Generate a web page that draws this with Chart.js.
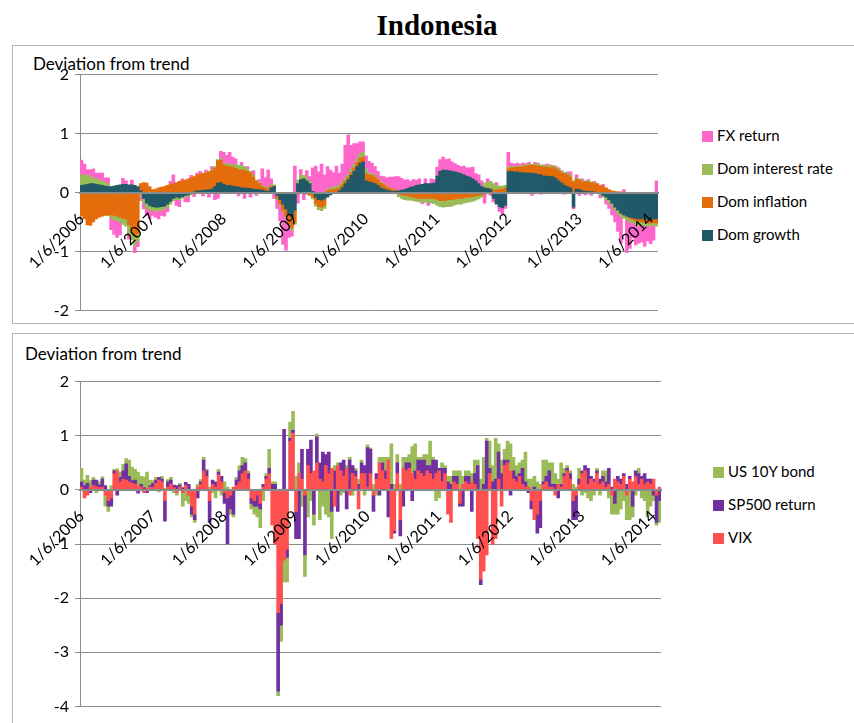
<!DOCTYPE html>
<html>
<head>
<meta charset="utf-8">
<script src="https://cdn.jsdelivr.net/npm/chart.js@4.4.1/dist/chart.umd.min.js"></script>
<style>
  body { margin: 0; background: #fff; width: 854px; height: 723px; overflow: hidden; position: relative; font-family: Lato, "Open Sans", sans-serif; color: #000; }
  .title { position: absolute; left: 0; width: 874px; top: 9px; text-align: center; font: bold 29px "Liberation Serif", "Times New Roman", serif; }
  .panel { position: absolute; border: 1px solid #b3b3b3; }
  .axis-title { position: absolute; font-size: 17px; white-space: nowrap; }
  .legend-item { position: absolute; font-size: 15px; white-space: nowrap; line-height: 18px; }
  .legend-item span { display: inline-block; width: 11px; height: 11px; margin-right: 4px; vertical-align: -1px; }
  canvas { position: absolute; }
</style>
</head>
<body>
<div class="title">Indonesia</div>

<div class="panel" style="left:12px; top:45px; width:860px; height:277px;"></div>
<div class="panel" style="left:12px; top:333px; width:860px; height:400px;"></div>

<div class="axis-title" style="left:33px; top:53px;">Deviation from trend</div>
<div class="axis-title" style="left:25px; top:343px;">Deviation from trend</div>

<canvas id="domestic" width="660" height="267" style="left:0; top:59px;"></canvas>
<canvas id="global" width="663" height="356" style="left:0; top:366px;"></canvas>

<div id="legendTop"></div>
<div id="legendBottom"></div>

<script>
// Axis labels shown on the time axis
const tickLabels = ['1/6/2006', '1/6/2007', '1/6/2008', '1/6/2009', '1/6/2010',
                    '1/6/2011', '1/6/2012', '1/6/2013', '1/6/2014'];

// Domestic factors: deviation from trend, twice a month from Jan 2006
const domGrowth = [
  0.12, 0.13, 0.14, 0.15, 0.15, 0.14, 0.13, 0.12, 0.11, 0.10,
  0.10, 0.11, 0.12, 0.13, 0.14, 0.14, 0.13, 0.13, 0.12, 0.10,
  0.03, -0.10, -0.18, -0.22, -0.24, -0.25, -0.25, -0.24, -0.23, -0.20,
  -0.15, -0.10, -0.08, -0.09, -0.07, -0.05, -0.04, -0.02, 0.01, 0.03,
  0.03, 0.04, 0.04, 0.05, 0.06, 0.10, 0.16, 0.17, 0.14, 0.12,
  0.12, 0.11, 0.10, 0.09, 0.08, 0.08, 0.07, 0.07, 0.06, 0.05,
  0.05, 0.04, 0.03, 0.02, 0.08, 0.10, -0.05, -0.12, -0.20, -0.28,
  -0.38, -0.42, -0.30, 0.15, 0.22, 0.23, 0.20, 0.15, 0.02, -0.08,
  -0.12, -0.13, -0.11, -0.08, -0.04, -0.02, -0.01, 0.03, 0.08, 0.15,
  0.22, 0.29, 0.36, 0.44, 0.50, 0.52, 0.20, 0.18, 0.17, 0.15,
  0.12, 0.08, 0.06, 0.04, 0.03, 0.02, 0.02, 0.03, 0.04, 0.05,
  0.07, 0.09, 0.10, 0.12, 0.13, 0.14, 0.15, 0.15, 0.15, 0.16,
  0.28, 0.36, 0.38, 0.38, 0.37, 0.36, 0.35, 0.34, 0.32, 0.30,
  0.28, 0.26, 0.23, 0.20, 0.15, 0.10, 0.08, 0.07, 0.05, -0.10,
  -0.20, -0.24, -0.26, -0.22, 0.35, 0.36, 0.35, 0.35, 0.34, 0.34,
  0.33, 0.33, 0.33, 0.32, 0.31, 0.30, 0.28, 0.28, 0.27, 0.27,
  0.24, 0.20, 0.16, 0.12, 0.10, 0.08, -0.25, 0.06, 0.05, 0.03,
  0.02, 0.02, 0.01, 0.01, 0.00, -0.02, -0.05, -0.08, -0.12, -0.18,
  -0.25, -0.30, -0.35, -0.38, -0.40, -0.42, -0.43, -0.44, -0.45, -0.45,
  -0.45, -0.46, -0.46, -0.45, -0.45
];
const domInflation = [
  -0.40, -0.45, -0.55, -0.56, -0.50, -0.45, -0.42, -0.40, -0.39, -0.39,
  -0.38, -0.39, -0.40, -0.42, -0.44, -0.45, -0.55, -0.65, -0.75, -0.70,
  0.12, 0.17, 0.16, 0.10, 0.05, 0.06, 0.08, 0.09, 0.10, 0.12,
  0.14, 0.15, 0.17, 0.19, 0.20, 0.21, 0.23, 0.25, 0.26, 0.27,
  0.28, 0.28, 0.29, 0.30, 0.31, 0.32, 0.38, 0.38, 0.33, 0.33,
  0.32, 0.32, 0.31, 0.30, 0.30, 0.30, 0.29, 0.26, 0.20, 0.14,
  0.10, 0.06, 0.05, 0.04, 0.02, 0.01, -0.05, -0.08, -0.10, -0.12,
  -0.15, -0.18, -0.20, -0.03, -0.02, -0.02, -0.03, -0.05, -0.08, -0.10,
  -0.12, -0.12, -0.11, 0.03, 0.05, 0.05, 0.06, 0.05, 0.05, 0.05,
  0.04, 0.05, 0.06, 0.07, 0.08, 0.08, 0.12, 0.12, 0.12, 0.11,
  0.10, 0.08, 0.07, 0.05, 0.04, 0.03, 0.02, -0.02, -0.04, -0.05,
  -0.06, -0.07, -0.08, -0.09, -0.10, -0.10, -0.10, -0.10, -0.10, -0.10,
  -0.12, -0.14, -0.14, -0.13, -0.12, -0.12, -0.11, -0.10, -0.10, -0.09,
  -0.08, -0.08, -0.07, -0.06, -0.05, -0.04, -0.03, -0.02, 0.02, 0.03,
  0.04, 0.05, 0.06, 0.08, 0.05, 0.06, 0.07, 0.08, 0.09, 0.10,
  0.12, 0.13, 0.13, 0.14, 0.14, 0.14, 0.15, 0.15, 0.15, 0.16,
  0.16, 0.17, 0.18, 0.20, 0.20, 0.18, 0.18, 0.17, 0.16, 0.15,
  0.16, 0.16, 0.16, 0.15, 0.14, 0.12, 0.10, 0.08, 0.05, 0.03,
  0.02, 0.01, 0.01, 0.00, -0.01, -0.02, -0.03, -0.04, -0.05, -0.05,
  -0.05, -0.06, -0.06, -0.06, -0.07
];
const domInterest = [
  0.18, 0.17, 0.15, 0.12, 0.10, 0.09, 0.08, 0.07, 0.06, 0.05,
  -0.05, -0.07, -0.08, -0.08, -0.10, -0.12, -0.14, -0.15, -0.15, -0.12,
  -0.06, -0.08, -0.09, -0.08, -0.07, -0.07, -0.06, -0.06, -0.05, -0.05,
  -0.05, -0.04, -0.04, -0.03, -0.03, -0.03, -0.02, -0.02, -0.02, -0.01,
  0.00, 0.01, 0.01, 0.01, 0.02, 0.02, 0.02, 0.03, 0.03, 0.03,
  0.04, 0.05, 0.06, 0.07, 0.08, 0.06, 0.04, 0.03, 0.03, 0.02,
  0.02, 0.02, 0.02, 0.02, 0.03, 0.02, -0.02, -0.03, -0.03, -0.03,
  -0.03, -0.04, -0.04, 0.06, 0.07, 0.06, 0.05, 0.04, -0.03, -0.05,
  -0.05, -0.06, -0.05, 0.03, 0.03, 0.04, 0.04, 0.05, 0.05, 0.05,
  0.05, 0.06, 0.06, 0.07, 0.08, 0.08, 0.08, 0.03, 0.03, 0.03,
  0.02, 0.02, 0.02, 0.02, 0.01, 0.01, 0.01, -0.05, -0.06, -0.07,
  -0.07, -0.06, -0.06, -0.06, -0.06, -0.06, -0.07, -0.07, -0.08, -0.09,
  -0.10, -0.10, -0.11, -0.11, -0.12, -0.11, -0.10, -0.10, -0.10, -0.09,
  -0.09, -0.08, -0.08, -0.07, -0.06, -0.04, 0.08, 0.10, 0.12, 0.12,
  0.08, 0.06, 0.05, 0.04, 0.03, 0.02, 0.02, 0.02, 0.02, 0.02,
  0.02, 0.02, 0.02, 0.03, 0.03, 0.03, 0.03, 0.03, 0.03, 0.03,
  0.03, 0.03, 0.02, 0.02, 0.03, 0.03, 0.02, 0.02, 0.02, 0.02,
  0.02, 0.02, 0.01, 0.01, 0.01, -0.02, -0.03, -0.04, -0.05, -0.05,
  -0.05, -0.06, -0.06, -0.06, -0.06, -0.06, -0.06, -0.06, -0.06, -0.06,
  -0.06, -0.05, -0.05, -0.05, -0.05
];
const fxReturn = [
  0.25, 0.18, 0.10, 0.12, 0.15, 0.10, 0.12, 0.14, 0.08, 0.10,
  -0.20, -0.25, -0.28, -0.22, 0.10, 0.06, -0.10, 0.08, -0.12, -0.10,
  -0.08, -0.10, -0.12, -0.15, -0.08, -0.10, -0.14, -0.09, -0.12, -0.08,
  0.05, 0.15, -0.10, -0.12, 0.03, -0.08, -0.10, 0.04, -0.05, 0.03,
  0.05, -0.06, 0.04, -0.08, 0.05, -0.12, -0.10, 0.12, 0.18, 0.15,
  0.20, 0.12, 0.10, -0.06, 0.05, -0.10, 0.04, -0.08, 0.08, -0.05,
  0.05, 0.28, 0.15, 0.30, 0.10, -0.10, -0.15, -0.25, -0.55, -0.55,
  -0.20, -0.10, 0.45, -0.15, 0.10, -0.10, 0.12, 0.08, 0.40, 0.45,
  0.35, 0.48, 0.30, 0.38, 0.30, 0.25, 0.35, 0.20, 0.30, 0.55,
  0.67, 0.40, 0.35, 0.25, 0.20, 0.18, 0.22, 0.20, 0.18, 0.15,
  0.12, 0.10, 0.12, 0.14, 0.18, 0.20, 0.22, 0.24, 0.20, 0.16,
  0.15, 0.10, 0.12, 0.09, 0.10, -0.03, 0.08, -0.05, 0.08, 0.06,
  0.15, 0.20, 0.22, 0.18, 0.20, 0.16, 0.14, 0.12, 0.12, 0.15,
  0.14, 0.16, 0.20, 0.12, 0.15, 0.10, -0.15, 0.06, -0.05, -0.06,
  0.05, -0.08, -0.10, -0.05, 0.25, 0.06, 0.04, 0.05, 0.03, 0.04,
  0.02, 0.03, -0.05, 0.02, 0.02, -0.03, 0.01, 0.02, 0.02, -0.02,
  0.02, 0.02, 0.01, -0.03, 0.02, 0.06, -0.03, 0.05, -0.05, 0.03,
  -0.04, 0.02, -0.05, 0.02, 0.01, -0.05, 0.04, -0.08, -0.10, -0.15,
  -0.20, -0.30, -0.45, 0.05, -0.55, -0.45, -0.25, -0.35, -0.30, -0.28,
  -0.35, -0.25, -0.30, -0.25, 0.20
];

// Global factors: deviation from trend, same dates
const vix = [
  0.05, -0.15, -0.10, 0.05, 0.08, 0.06, 0.04, 0.05, -0.10, -0.20,
  -0.15, 0.30, 0.35, 0.15, 0.20, 0.18, 0.15, 0.12, 0.10, 0.08,
  0.05, -0.05, 0.03, 0.05, 0.04, 0.12, 0.18, 0.15, -0.20, 0.05,
  0.10, 0.04, -0.05, 0.05, -0.05, 0.08, -0.10, -0.30, -0.45, 0.05,
  0.10, 0.35, 0.25, -0.20, 0.10, 0.05, 0.28, 0.15, -0.05, -0.15,
  -0.10, 0.05, 0.08, 0.15, 0.30, 0.35, 0.20, -0.15, -0.20, -0.10,
  -0.25, 0.05, 0.20, 0.30, -0.65, -1.00, -2.27, -2.10, -1.30, -1.10,
  0.90, 1.05, -0.40, 0.30, 0.20, -0.10, 0.45, 0.30, 0.35, 0.50,
  0.20, 0.15, 0.45, 0.30, 0.40, -0.30, 0.45, 0.35, 0.25, 0.40,
  -0.10, 0.30, 0.25, -0.35, 0.30, 0.30, 0.05, 0.30, -0.10, 0.20,
  0.50, 0.35, 0.20, 0.55, -0.90, -0.75, 0.30, -0.55, 0.40, 0.35,
  0.40, 0.30, 0.20, 0.35, 0.30, 0.25, 0.35, 0.30, 0.20, 0.30,
  0.35, 0.15, 0.30, -0.45, -0.60, 0.15, 0.10, -0.25, 0.10, 0.15,
  0.10, 0.15, 0.10, -0.90, -1.65, -1.50, -1.20, 0.30, -1.00, -0.90,
  0.20, -0.30, 0.45, 0.50, 0.35, 0.20, 0.15, 0.25, 0.10, 0.05,
  0.05, -0.20, -0.55, -0.45, -0.20, 0.10, 0.15, 0.05, 0.05, -0.10,
  0.10, 0.05, 0.25, 0.35, 0.20, -0.20, -0.10, 0.10, 0.30, 0.35,
  0.10, 0.20, 0.15, 0.30, 0.10, 0.15, 0.05, 0.10, -0.10, 0.20,
  0.15, 0.10, 0.25, -0.10, 0.20, 0.15, 0.25, 0.10, 0.20, 0.10,
  0.15, 0.10, 0.20, -0.10, 0.05
];
const sp500 = [
  0.10, 0.08, 0.12, -0.05, 0.10, 0.12, 0.05, 0.15, 0.08, -0.10,
  -0.15, 0.05, -0.10, 0.08, 0.15, 0.30, 0.10, 0.05, 0.08, -0.06,
  0.05, 0.04, -0.05, 0.03, 0.08, 0.06, 0.05, 0.05, -0.38, 0.10,
  0.08, 0.05, 0.08, 0.04, 0.04, 0.06, 0.10, -0.15, -0.10, -0.15,
  0.05, 0.20, 0.10, -0.40, 0.08, 0.10, 0.05, 0.10, -0.20, -0.85,
  -0.25, -0.45, 0.10, 0.20, 0.15, 0.15, 0.10, -0.10, -0.10, -0.20,
  -0.10, 0.05, 0.05, 0.10, 0.10, 0.10, -1.45, -0.40, 1.12, -0.15,
  0.05, 0.05, -0.50, -0.90, 0.55, -1.10, 0.30, 0.62, -0.45, 0.48,
  0.30, 0.55, 0.20, 0.40, -0.40, 0.35, -0.40, 0.15, 0.30, -0.35,
  0.55, 0.15, 0.10, 0.10, 0.20, 0.15, 0.73, 0.45, -0.30, 0.10,
  -0.10, 0.15, 0.15, -0.50, 0.10, -0.05, 0.20, -0.30, -0.30, 0.15,
  0.10, -0.20, 0.15, 0.20, 0.25, 0.30, 0.10, 0.15, 0.35, 0.25,
  0.05, 0.25, 0.10, 0.15, 0.10, 0.10, 0.15, -0.05, -0.30, 0.10,
  0.15, -0.40, 0.20, 0.45, -0.10, 0.10, 0.90, 0.10, 0.15, 0.20,
  0.50, 0.30, 0.10, 0.05, -0.10, 0.15, 0.10, 0.05, 0.30, 0.10,
  -0.05, -0.15, 0.05, -0.35, -0.50, 0.05, 0.10, 0.30, 0.05, 0.10,
  -0.15, 0.05, 0.05, 0.05, 0.10, -0.35, -0.45, 0.10, 0.05, 0.10,
  0.30, 0.05, 0.05, 0.05, 0.10, 0.10, 0.10, 0.30, 0.05, -0.25,
  0.10, 0.10, 0.05, 0.10, 0.05, -0.30, 0.10, 0.20, 0.05, 0.20,
  0.05, 0.10, -0.10, -0.50, -0.20
];
const us10y = [
  0.25, 0.10, 0.15, 0.12, 0.05, -0.05, 0.06, 0.04, -0.20, -0.10,
  0.08, 0.03, 0.04, 0.10, 0.12, 0.10, 0.30, 0.25, 0.20, 0.25,
  0.15, 0.20, 0.30, 0.10, 0.05, 0.05, -0.04, 0.05, 0.03, 0.04,
  0.05, -0.05, -0.05, 0.03, -0.25, -0.20, -0.15, -0.05, -0.05, 0.05,
  0.04, 0.05, 0.03, 0.05, -0.05, -0.15, 0.05, -0.10, 0.15, 0.05,
  -0.10, -0.05, 0.05, 0.10, 0.15, 0.08, 0.05, -0.10, -0.15, -0.20,
  -0.35, -0.20, 0.05, 0.35, 0.05, 0.05, -0.08, -0.30, -0.40, -0.45,
  0.30, 0.35, 0.25, 0.20, -0.30, -0.40, -0.50, -0.20, -0.20, 0.05,
  -0.55, -0.30, -0.45, -0.50, -0.50, 0.10, 0.05, -0.10, -0.05, 0.05,
  0.05, -0.10, 0.05, 0.10, 0.05, -0.10, 0.05, 0.02, 0.10, -0.10,
  0.10, 0.10, 0.25, 0.05, 0.75, 0.10, 0.15, 0.10, 0.20, 0.10,
  0.15, 0.50, 0.50, 0.05, 0.05, 0.10, 0.20, 0.45, 0.05, -0.20,
  -0.15, 0.10, 0.05, 0.10, 0.15, 0.10, 0.10, 0.35, 0.15, 0.10,
  0.10, 0.15, 0.25, 0.10, 0.20, 0.50, 0.05, 0.50, 0.30, 0.75,
  0.15, 0.25, 0.20, 0.35, 0.50, 0.25, 0.20, 0.20, 0.15, 0.55,
  0.15, 0.20, 0.20, 0.15, 0.10, 0.40, 0.30, 0.15, 0.40, 0.20,
  0.10, 0.40, 0.10, 0.05, 0.05, 0.10, 0.05, 0.20, -0.10, -0.05,
  -0.15, -0.20, -0.10, 0.05, -0.10, 0.10, 0.20, -0.15, -0.35, -0.20,
  -0.45, -0.35, -0.20, -0.45, -0.55, -0.20, -0.10, 0.10, -0.15, -0.20,
  -0.50, -0.30, -0.10, -0.05, -0.40
];

// Twice-monthly observation dates: the 6th and the 21st of each month
const categories = [];
for (let k = 0; k < domGrowth.length; k++) {
  const month = Math.floor(k / 2) % 12 + 1;
  const year = 2006 + Math.floor(k / 24);
  categories.push(month + '/' + (k % 2 ? 21 : 6) + '/' + year);
}

const topSeries = [
  { label: 'Dom growth', data: domGrowth, color: '#215968' },
  { label: 'Dom inflation', data: domInflation, color: '#e46c0a' },
  { label: 'Dom interest rate', data: domInterest, color: '#9bbb59' },
  { label: 'FX return', data: fxReturn, color: '#ff66cc' }
];
const bottomSeries = [
  { label: 'VIX', data: vix, color: '#ff5050' },
  { label: 'SP500 return', data: sp500, color: '#7030a0' },
  { label: 'US 10Y bond', data: us10y, color: '#9bbb59' }
];

const FONT = 'Lato, "Open Sans", sans-serif';

function stackedBars(canvasId, series, yMin, yMax) {
  return new Chart(document.getElementById(canvasId), {
    type: 'bar',
    data: {
      labels: categories,
      datasets: series.map(s => ({
        label: s.label,
        data: s.data,
        backgroundColor: s.color,
        borderWidth: 0,
        barPercentage: 1,
        categoryPercentage: 1
      }))
    },
    options: {
      responsive: false,
      animation: false,
      devicePixelRatio: 1,
      layout: { padding: { top: 14, bottom: 10, left: 0, right: 2 } },
      plugins: { legend: { display: false }, tooltip: { enabled: false } },
      scales: {
        x: {
          stacked: true,
          position: { y: 0 },
          // the slanted date labels hang below the zero line and need no side margin
          afterFit: scale => { scale.paddingLeft = 0; scale.paddingRight = 0; },
          grid: { display: false },
          border: { color: '#8a8a8a', width: 2, z: 1 },
          ticks: {
            z: 1,
            autoSkip: false,
            minRotation: 45,
            maxRotation: 45,
            padding: 9,
            color: '#000',
            font: { family: FONT, size: 16 },
            callback: (v, i) => tickLabels.includes(categories[i]) ? categories[i] : ''
          }
        },
        y: {
          stacked: true,
          min: yMin,
          max: yMax,
          afterFit: scale => { scale.width = 80; },
          grid: { color: '#8c8c8c', tickLength: 5 },
          border: { color: '#8c8c8c' },
          ticks: { stepSize: 1, padding: 6, color: '#000', font: { family: FONT, size: 16 } }
        }
      }
    }
  });
}

stackedBars('domestic', topSeries, -2, 2);
stackedBars('global', bottomSeries, -4, 2);

// Legends list the series from the top of the stack down
function legend(containerId, series, left, top) {
  const box = document.getElementById(containerId);
  series.slice().reverse().forEach((s, k) => {
    const item = document.createElement('div');
    item.className = 'legend-item';
    item.style.left = left + 'px';
    item.style.top = (top + k * 33) + 'px';
    item.innerHTML = '<span style="background:' + s.color + '"></span>' + s.label;
    box.appendChild(item);
  });
}
legend('legendTop', topSeries, 702, 126);
legend('legendBottom', bottomSeries, 713, 462);
</script>
</body>
</html>
